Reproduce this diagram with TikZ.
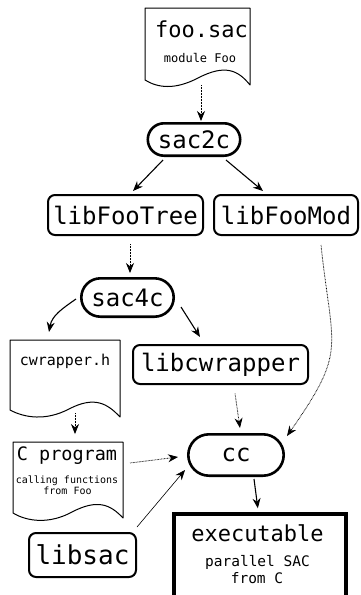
\documentclass[tikz,border=0pt]{standalone}
\usepackage{fontspec}
\setmonofont{DejaVu Sans Mono}
\usetikzlibrary{arrows.meta,shapes.misc,calc}

% monospaced text at a given size (in pt)
\newcommand\mono[1]{\ttfamily\fontsize{#1}{#1}\selectfont}

\tikzset{
  tool/.style={rounded rectangle, draw, line width=2.6pt, inner sep=0pt, font=\mono{24}},
  lib/.style={rectangle, rounded corners=7pt, draw, line width=2pt, inner sep=0pt, font=\mono{24}},
  docbox/.style={rectangle, inner sep=0pt, outer sep=0pt},
  docline/.style={line width=1pt, line join=round},
  doctext/.style={inner sep=0pt, anchor=base},
  flow/.style={-{Stealth[length=10pt,width=8pt]}, line width=1.1pt},
  thinflow/.style={flow, line width=0.6pt},
  dep/.style={-{Stealth[length=10pt,width=8pt]}, line width=0.8pt, dash pattern=on 0.7pt off 0.8pt},
}

\begin{document}
\begin{tikzpicture}[x=1pt,y=-1pt]
\useasboundingbox (0,0) rectangle (360,595);

% ---- source module foo.sac
\node[docbox, minimum width=105pt, minimum height=80pt] (foo) at (197.5,48) {};
\draw[docline] (145,80) -- (145,8) -- (250,8) -- (250,85)
  .. controls (238,70) and (225,64) .. (198,78)
  .. controls (175,90) and (158,88) .. (145,80) -- cycle;
\node[doctext, font=\mono{22}] (footitle) at (201.5,37) {foo.sac};
\node[doctext, font=\mono{12}] (foosub) at (200,62) {module Foo};

% ---- compiler and libraries
\node[tool, minimum width=92.4pt, minimum height=32.4pt] (sac2c) at (194,139.5) {sac2c};
\node[lib, minimum width=155pt, minimum height=40pt] (tree) at (125.5,215) {libFooTree};
\node[lib, minimum width=144pt, minimum height=40pt] (mod) at (286,215) {libFooMod};
\node[tool, minimum width=92.4pt, minimum height=38.4pt] (sac4c) at (127.5,297.5) {sac4c};

% ---- generated header
\node[docbox, minimum width=110pt, minimum height=78pt] (cwdoc) at (65,379) {};
\draw[docline] (10,410) -- (10,340) -- (120,340) -- (120,417)
  .. controls (107,403) and (94,396) .. (69,409)
  .. controls (46,421) and (25,418) .. (10,410) -- cycle;
\node[doctext, font=\mono{15}] (cwtext) at (65,365) {cwrapper.h};

\node[lib, minimum width=175pt, minimum height=39pt] (cwrap) at (220.5,364.5) {libcwrapper};

% ---- C program
\node[docbox, minimum width=110pt, minimum height=80pt] (cprog) at (68,482) {};
\draw[docline] (13,513) -- (13,442) -- (123,442) -- (123,518)
  .. controls (110,504) and (97,499) .. (72,512)
  .. controls (50,524) and (28,522) .. (13,513) -- cycle;
\node[doctext, font=\mono{18.5}] (cptitle) at (67,460.5) {C program};
\node[doctext, font=\mono{10}] (cpline1) at (67,483) {calling functions};
\node[doctext, font=\mono{10}] (cpline2) at (67.5,494) {from Foo};

\node[tool, minimum width=95.4pt, minimum height=41.4pt] (cc) at (236,455) {cc};
\node[lib, minimum width=107pt, minimum height=44pt, font=\mono{26}] (libsac) at (82.5,555) {libsac};

% ---- result
\node[draw, line width=4pt, inner sep=0pt, outer sep=0pt,
      minimum width=172.3pt, minimum height=100.7pt] (exe) at (259.85,564.65) {};
\node[doctext, font=\mono{22}] (exetitle) at (257.5,541) {executable};
\node[doctext, font=\mono{14.5}] (exeline1) at (257.5,566) {parallel SAC};
\node[doctext, font=\mono{14.5}] (exeline2) at (257,583) {from C};

% ---- connectors
\draw[dep] ($(foo.south)+(3.5,-3)$) -- ($(sac2c.north)+(7,-1)$);
\draw[flow] ($(sac2c.south)+(-31,3)$) -- ($(tree.north)+(7.5,-3)$);
\draw[flow] ($(sac2c.south)+(32,3)$) -- ($(mod.north)+(-23,-3)$);
\draw[dep] ($(tree.south)+(4.5,8)$) -- ($(sac4c.north)+(2.5,-4)$);
\draw[dep] ($(mod.south)+(35,9)$) to[out=-84, in=55, looseness=1.4] ($(cc.north)+(51,3)$);
\draw[flow] ($(sac4c.west)+(-4,1.5)$) to[out=215, in=80] ($(cwdoc.north)+(-16,-8)$);
\draw[flow] ($(sac4c.east)+(6,9.5)$) -- ($(cwrap.north)+(-20.5,-7)$);
\draw[dep] ($(cwdoc.south)+(10,-5)$) -- ($(cprog.north)+(7,-8)$);
\draw[dep] ($(cwrap.south)+(14.5,8.5)$) -- ($(cc.north)+(4,-5)$);
\draw[dep] ($(cprog.east)+(7,-19)$) -- ($(cc.west)+(-9,2)$);
\draw[thinflow] ($(libsac.north east)+(0,-5)$) -- ($(cc.west)+(-2,15)$);
\draw[flow] ($(cc.south)+(18,2)$) -- ($(exe.north)+(-2,-6)$);
\end{tikzpicture}
\end{document}
